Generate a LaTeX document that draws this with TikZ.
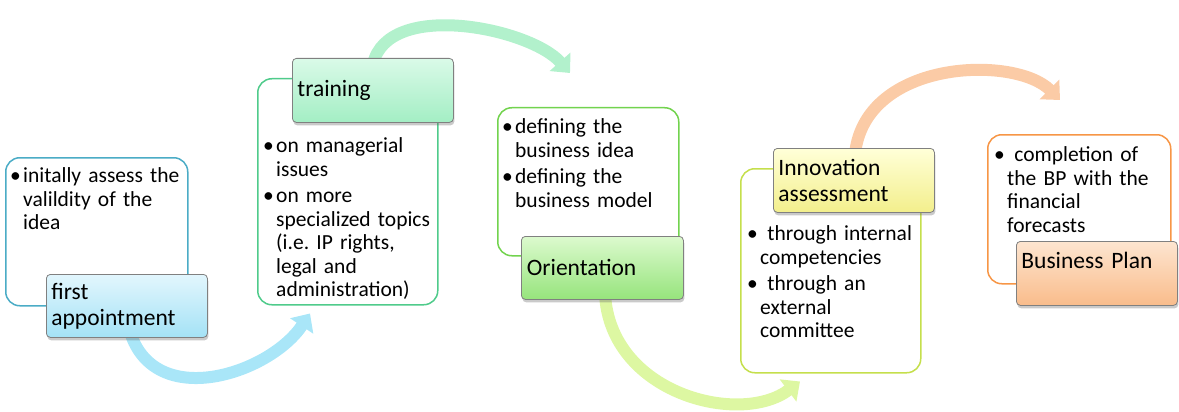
\documentclass[tikz,border=0pt]{standalone}
\usepackage{fontspec}
\setmainfont{Carlito}
\usepackage{tikz}
\usetikzlibrary{arrows.meta,calc,shadows}

\definecolor{appline}{HTML}{4BACC6}
\definecolor{apptop}{HTML}{E2F6FD}
\definecolor{appbot}{HTML}{A4E2F6}
\definecolor{appflow}{HTML}{A9E6F8}
\definecolor{trainline}{HTML}{4FCB8B}
\definecolor{traintop}{HTML}{DAFAE8}
\definecolor{trainbot}{HTML}{A3EEC4}
\definecolor{trainflow}{HTML}{B2F1CC}
\definecolor{oriline}{HTML}{72D34E}
\definecolor{oritop}{HTML}{DCFACE}
\definecolor{oribot}{HTML}{96E47C}
\definecolor{oriflow}{HTML}{DDF7A2}
\definecolor{innoline}{HTML}{C5DF4C}
\definecolor{innotop}{HTML}{FFFFD8}
\definecolor{innobot}{HTML}{F3EF8C}
\definecolor{innoflow}{HTML}{FBCBA6}
\definecolor{bpline}{HTML}{F79646}
\definecolor{bptop}{HTML}{FDE5D0}
\definecolor{bpbot}{HTML}{F9BC8B}

\newcommand{\bul}[1]{\par\hangindent=13pt\hangafter=1\noindent\makebox[13pt][l]{\textbullet}#1\par}

\pgfdeclarelayer{bg}
\pgfsetlayers{bg,main}

\frenchspacing

\begin{document}
\begin{tikzpicture}[x=1pt, y=-1pt]
    \tikzstyle{notebox} = [rectangle, rounded corners=14pt, line width=1.5pt, minimum width=181pt, anchor=north west, fill=white]
    \tikzstyle{notetext} = [anchor=north west, inner sep=0pt, text width=172pt, font=\fontsize{21.5}{23.5}\selectfont, execute at begin node={\setlength{\parskip}{3pt}\raggedright}]
    \tikzstyle{stagebox} = [rectangle, rounded corners=4pt, draw=gray, line width=0.8pt, minimum width=161pt, minimum height=63pt, anchor=north west, text width=151pt, align=left, inner xsep=5pt, font=\fontsize{23.5}{26}\selectfont, drop shadow={shadow xshift=1pt, shadow yshift=-3pt, fill=black!60, opacity=0.35}]
    \tikzstyle{flowarrow} = [line width=12pt, -{Triangle[length=15pt, width=27pt]}]

    \useasboundingbox (0,0) rectangle (1179,412);

    \node (appnote) [notebox, draw=appline, minimum width=182pt, minimum height=148pt] at (5,157) {};
    \node (apptext) [notetext] at (10,156) {\bul{initally assess the\newline valildity of the\newline idea}};
    \node (appt) [stagebox, top color=apptop, bottom color=appbot] at (46,274) {first\\appointment};

    \node (trainnote) [notebox, draw=trainline, minimum width=180pt, minimum height=226pt] at (257,78) {};
    \node (traintext) [notetext] at (263,126) {\bul{on managerial\newline issues}\bul{on more\newline specialized topics\newline (i.e. IP rights,\newline legal and\newline administration)}};
    \node (train) [stagebox, top color=traintop, bottom color=trainbot, minimum height=64pt] at (292,58) {training};

    \node (orinote) [notebox, draw=oriline, minimum width=181pt, minimum height=148pt] at (497,107) {};
    \node (oritext) [notetext] at (502,107) {\bul{defining the\newline business idea}\bul{defining the\newline business model}};
    \node (ori) [stagebox, top color=oritop, bottom color=oribot, minimum width=162pt] at (521,236) {Orientation};

    \node (innonote) [notebox, draw=innoline, minimum width=180pt, minimum height=204pt] at (740,168) {};
    \node (innotext) [notetext] at (747,214) {\bul{ through internal\newline competencies}\bul{ through an\newline external\newline committee}};
    \node (inno) [stagebox, top color=innotop, bottom color=innobot, minimum height=64pt] at (773,148) {Innovation\\assessment};

    \node (bpnote) [notebox, draw=bpline, minimum width=183pt, minimum height=149pt] at (987,134) {};
    \node (bptext) [notetext] at (994,135) {\bul{ completion of\newline the BP with the\newline financial\newline forecasts}};
    \node (bp) [stagebox, top color=bptop, bottom color=bpbot, minimum height=64pt] at (1016,241) {Business Plan\\ \mbox{}};

    \begin{pgfonlayer}{bg}
    \draw [flowarrow, draw=appflow] ($(appt.south west)+(84,-6)$) .. controls +(25,80) and +(-40,60) .. ($(trainnote.south west)+(53,8)$);
    \draw [flowarrow, draw=trainflow] ($(train.north west)+(81,6)$) .. controls +(15,-65) and +(-40,-45) .. ($(orinote.north west)+(73,-34)$);
    \draw [flowarrow, draw=oriflow] ($(ori.south west)+(84,-6)$) .. controls +(5,100) and +(-60,45) .. ($(innonote.south west)+(60,8)$);
    \draw [flowarrow, draw=innoflow] ($(inno.north west)+(82,6)$) .. controls +(10,-95) and +(-45,-45) .. ($(bpnote.north west)+(73,-34)$);
    \end{pgfonlayer}

\end{tikzpicture}
\end{document}
